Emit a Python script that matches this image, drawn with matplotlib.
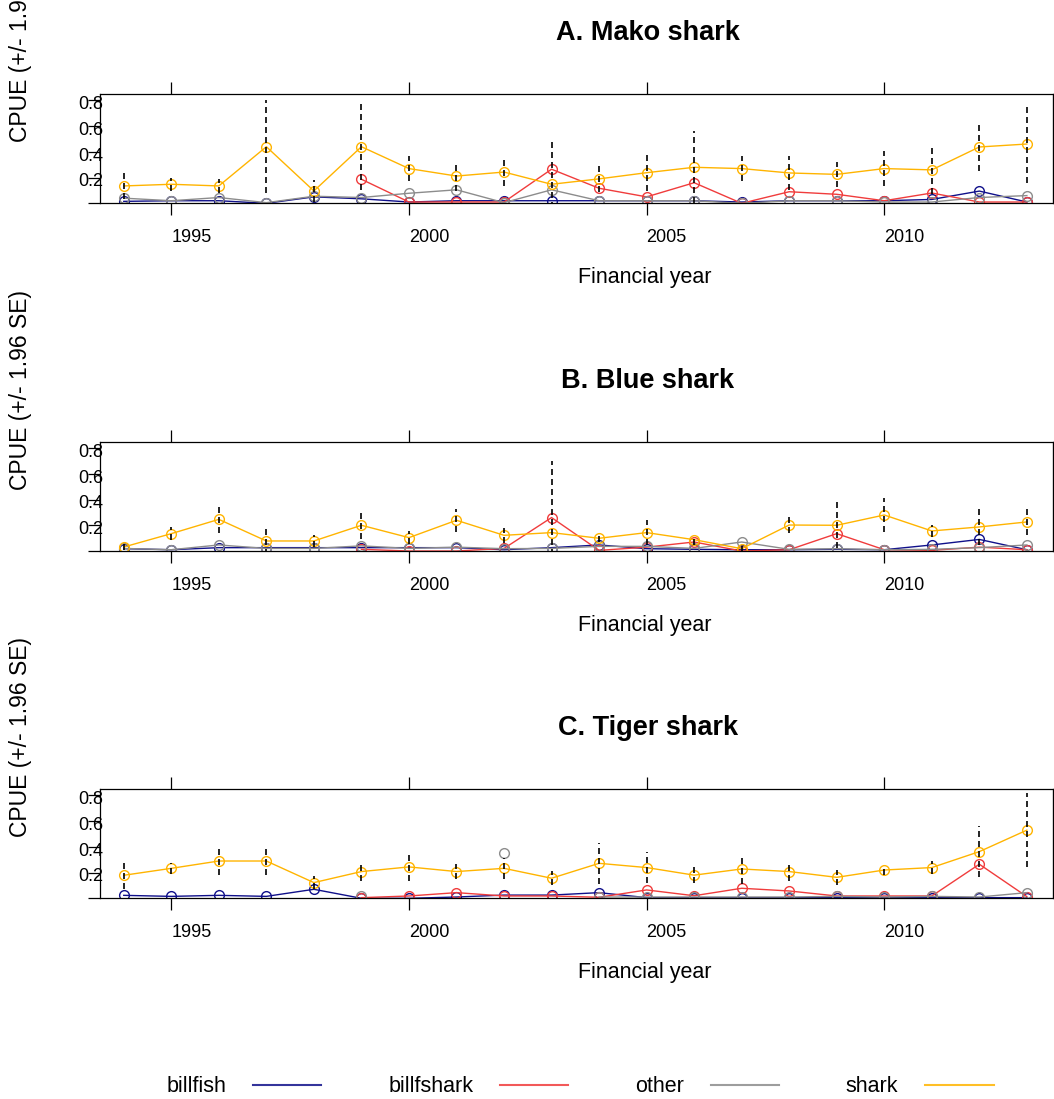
import numpy as np
import matplotlib
matplotlib.use("Agg")
import matplotlib.pyplot as plt
from matplotlib.lines import Line2D

plt.rcParams['font.family'] = ['Liberation Sans', 'DejaVu Sans']

nan = np.nan
years = list(range(1994, 2014))
year_ticks = [1995, 2000, 2005, 2010]
y_ticks = [0.0, 0.2, 0.4, 0.6, 0.8]

# A. Mako shark
mako_billfish = [0.015, 0.02, 0.02, 0.0, 0.05, 0.035, 0.01, 0.02, 0.02, 0.02,
                 0.02, 0.02, 0.02, 0.01, 0.02, 0.02, 0.02, 0.03, 0.095, 0.01]
mako_billfshark = [nan, nan, nan, nan, nan, 0.187, 0.01, 0.01, 0.01, 0.265,
                   0.117, 0.05, 0.16, 0.0, 0.09, 0.07, 0.02, 0.08, 0.01, 0.01]
mako_other = [0.04, 0.02, 0.045, 0.005, 0.055, 0.045, 0.078, 0.105, 0.005, 0.105,
              0.02, 0.02, 0.02, 0.0, 0.02, 0.02, 0.01, 0.01, 0.045, 0.06]
mako_shark = [0.135, 0.148, 0.135, 0.44, 0.096, 0.44, 0.27, 0.212, 0.243, 0.148,
              0.19, 0.238, 0.28, 0.27, 0.236, 0.225, 0.27, 0.26, 0.438, 0.461]
mako_ci = [0.10, 0.05, 0.057, 0.36, 0.085, 0.34, 0.10, 0.12, 0.11, 0.34,
           0.10, 0.146, 0.28, 0.10, 0.13, 0.10, 0.137, 0.19, 0.19, 0.30]

# B. Blue shark
blue_billfish = [0.018, 0.01, 0.026, 0.026, 0.026, 0.026, 0.026, 0.026, 0.01, 0.026,
                 0.047, 0.018, 0.013, 0.01, 0.01, 0.013, 0.01, 0.047, 0.09, 0.01]
blue_billfshark = [nan, nan, nan, nan, nan, 0.013, 0.0, 0.0, 0.02, 0.26,
                   0.005, 0.03, 0.07, 0.0, 0.01, 0.135, 0.01, 0.005, 0.03, 0.01]
blue_other = [0.02, 0.01, 0.047, 0.02, 0.02, 0.04, 0.02, 0.03, 0.018, 0.02,
              0.036, 0.036, 0.02, 0.07, 0.013, 0.018, 0.01, 0.013, 0.026, 0.047]
blue_shark = [0.031, 0.135, 0.246, 0.078, 0.078, 0.2, 0.104, 0.239, 0.122, 0.143,
              0.099, 0.143, 0.088, 0.018, 0.202, 0.2, 0.28, 0.156, 0.187, 0.226]
blue_ci = [0.02, 0.05, 0.105, 0.11, 0.05, 0.106, 0.05, 0.09, 0.06, 0.56,
           0.03, 0.10, 0.04, 0.02, 0.06, 0.18, 0.13, 0.05, 0.14, 0.10]

# C. Tiger shark
tiger_billfish = [0.023, 0.015, 0.023, 0.015, 0.07, 0.0, 0.0, 0.01, 0.025, 0.025,
                  0.044, 0.005, 0.005, 0.005, 0.005, 0.005, 0.005, 0.005, 0.005, 0.005]
tiger_billfshark = [nan, nan, nan, nan, nan, 0.005, 0.018, 0.044, 0.018, 0.018,
                    0.008, 0.065, 0.02, 0.078, 0.057, 0.018, 0.018, 0.018, 0.265, 0.013]
tiger_other = [nan, nan, nan, nan, nan, 0.018, nan, nan, 0.35, nan,
               0.01, 0.01, 0.01, 0.01, 0.01, 0.015, 0.01, 0.015, 0.01, 0.044]
tiger_shark = [0.179, 0.233, 0.29, 0.29, 0.122, 0.208, 0.244, 0.208, 0.233, 0.156,
               0.272, 0.239, 0.18, 0.228, 0.208, 0.163, 0.22, 0.239, 0.363, 0.53]
tiger_ci = [0.11, 0.045, 0.11, 0.11, 0.05, 0.07, 0.11, 0.06, 0.08, 0.055,
            0.16, 0.12, 0.06, 0.115, 0.07, 0.06, 0.04, 0.05, 0.20, 0.29]

series_names = ["billfish", "billfshark", "other", "shark"]
colors = {"billfish": "#10108a", "billfshark": "#f03c3c",
          "other": "#8c8c8c", "shark": "#ffb400"}

panels = [
    ("A. Mako shark", mako_billfish, mako_billfshark, mako_other, mako_shark, mako_ci),
    ("B. Blue shark", blue_billfish, blue_billfshark, blue_other, blue_shark, blue_ci),
    ("C. Tiger shark", tiger_billfish, tiger_billfshark, tiger_other, tiger_shark, tiger_ci),
]

W, H = 1054, 1099
fig = plt.figure(figsize=(W / 100, H / 100), dpi=100)
ax_left, ax_w, ax_h = 100, 953, 109.3
ax_tops = [94, 441.7, 789]

for top, (title, bf, bfs, oth, shk, ci) in zip(ax_tops, panels):
    ax = fig.add_axes([ax_left / W, 1 - (top + ax_h) / H, ax_w / W, ax_h / H])
    for name, vals in zip(series_names, [bf, bfs, oth, shk]):
        ax.plot(years, vals, color=colors[name], lw=1.0, marker='o', ms=7,
                mfc='none', mec=colors[name], mew=1.0, zorder=2)
    shk_a = np.array(shk)
    ci_a = np.array(ci)
    # 1.96 SE bars, black dashed
    ax.vlines(years, shk_a - ci_a, shk_a + ci_a, colors='black', lw=1.2,
              linestyles=(0, (3.6, 2.4)), zorder=3)

    ax.set_xlim(1993.5, 2013.55)
    ax.set_ylim(0, 0.85)
    for s in ax.spines.values():
        s.set_linewidth(0.9)

    ax.set_xticks(year_ticks)
    ax.set_xticklabels([str(y) for y in year_ticks], ha='left')
    ax.tick_params(axis='x', direction='out', length=8.5, width=0.9, pad=10,
                   labelsize=13, top=True)
    ax.set_yticks(y_ticks)
    ax.tick_params(axis='y', direction='out', length=8.6, width=0.9,
                   labelleft=False)
    # y labels sit over the axis line, slightly below their ticks
    for v in y_ticks[1:]:
        ax.annotate(f"{v:.1f}", xy=(0, v), xycoords=('axes fraction', 'data'),
                    xytext=(2.2, -3), textcoords='offset points',
                    ha='right', va='center', fontsize=13)

    sec = ax.secondary_yaxis('right')
    sec.set_yticks(y_ticks[1:])
    sec.set_yticklabels([])
    sec.tick_params(length=2.2, width=0.9)

    ax.text((648 - ax_left) / ax_w, 1 + 61 / ax_h, title, transform=ax.transAxes,
            ha='center', va='center', fontsize=19.5, fontweight='bold')
    ax.text((645 - ax_left) / ax_w, -74 / ax_h, "Financial year",
            transform=ax.transAxes, ha='center', va='center', fontsize=15.5)
    ax.text((21 - ax_left) / ax_w, (550 - 389) / ax_h, "CPUE (+/- 1.96 SE)",
            transform=ax.transAxes, ha='center', va='center', rotation=90,
            fontsize=16.5)

handles = [Line2D([], [], color=colors[n], lw=1.5, alpha=0.85) for n in series_names]
fig.legend(handles, series_names, loc='center', bbox_to_anchor=(580 / W, 1 - 1087 / H),
           ncol=4, frameon=False, markerfirst=False, fontsize=15.5,
           handlelength=3.17, handletextpad=1.25, columnspacing=3.1)

fig.savefig("out.png", dpi=100)
